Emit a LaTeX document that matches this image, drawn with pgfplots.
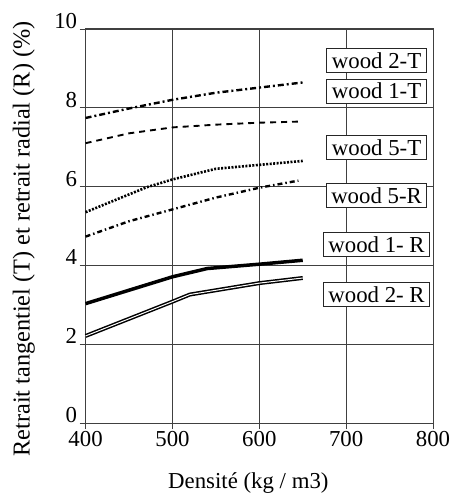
\documentclass[border=0pt]{standalone}
\usepackage{fontspec}
\setmainfont{Liberation Serif}
\usepackage{pgfplots}
\pgfplotsset{compat=1.18}

\begin{document}
\begin{tikzpicture}[font=\fontsize{23}{27}\selectfont]
\begin{axis}[
  scale only axis,
  width=349bp, height=396bp,
  xmin=400, xmax=800, ymin=0, ymax=10,
  xtick={400,500,...,800}, ytick={0,2,...,10},
  grid=major,
  grid style={black!75, line width=0.7bp},
  axis line style={black!75, line width=0.8bp},
  tick pos=left, tick align=outside,
  major tick length=6bp,
  tick style={black!75, line width=0.7bp},
  /pgf/number format/assume math mode=true,
  yticklabel style={yshift=8bp, xshift=1bp},
  xticklabel style={yshift=1bp},
  xlabel={Densité (kg / m3)},
  ylabel={Retrait tangentiel (T) et retrait radial (R) (\%)},
  xlabel style={at={(axis description cs:0.4685,-0.1667)}, anchor=base},
  ylabel style={at={(axis description cs:-0.178,0.467)}, anchor=center, font=\fontsize{24.5}{28}\selectfont},
  clip=false,
]
% wood 2-T
\addplot[black, line width=2.4bp, dash pattern=on 6bp off 3bp on 2bp off 3bp] coordinates {
  (400,7.74) (450,7.98) (500,8.2) (550,8.38) (600,8.51) (650,8.64)
};
% wood 1-T
\addplot[black, line width=1.9bp, dash pattern=on 6bp off 5bp] coordinates {
  (400,7.1) (450,7.35) (500,7.5) (550,7.57) (600,7.62) (650,7.65)
};
% wood 5-T
\addplot[black, line width=2.6bp, dash pattern=on 2bp off 1.5bp] coordinates {
  (400,5.35) (470,5.98) (500,6.18) (550,6.45) (600,6.55) (650,6.65)
};
% wood 5-R
\addplot[black, line width=2.4bp, dash pattern=on 5bp off 3bp on 1.5bp off 3bp] coordinates {
  (400,4.73) (450,5.12) (500,5.42) (550,5.72) (600,5.97) (645,6.15)
};
% wood 1-R
\addplot[black, line width=3.5bp] coordinates {
  (400,3.03) (500,3.71) (540,3.92) (600,4.03) (650,4.13)
};
% wood 2-R
\addplot[black, line width=1.5bp, double=white, double distance=1bp] coordinates {
  (400,2.21) (500,3.08) (520,3.26) (600,3.55) (650,3.68)
};
\tikzset{lab/.style={draw=black!85, fill=white, line width=1bp, inner xsep=5bp, inner ysep=4bp}}
\node[lab] at (axis cs:735,9.2) {wood 2-T};
\node[lab] at (axis cs:735,8.42) {wood 1-T};
\node[lab] at (axis cs:735,6.98) {wood 5-T};
\node[lab] at (axis cs:735,5.78) {wood 5-R};
\node[lab] at (axis cs:735,4.53) {wood 1- R};
\node[lab] at (axis cs:735,3.25) {wood 2- R};
\end{axis}
\path ([xshift=-86bp,yshift=-72bp]current axis.south west) rectangle ([xshift=19bp,yshift=29bp]current axis.north east);
\end{tikzpicture}
\end{document}
